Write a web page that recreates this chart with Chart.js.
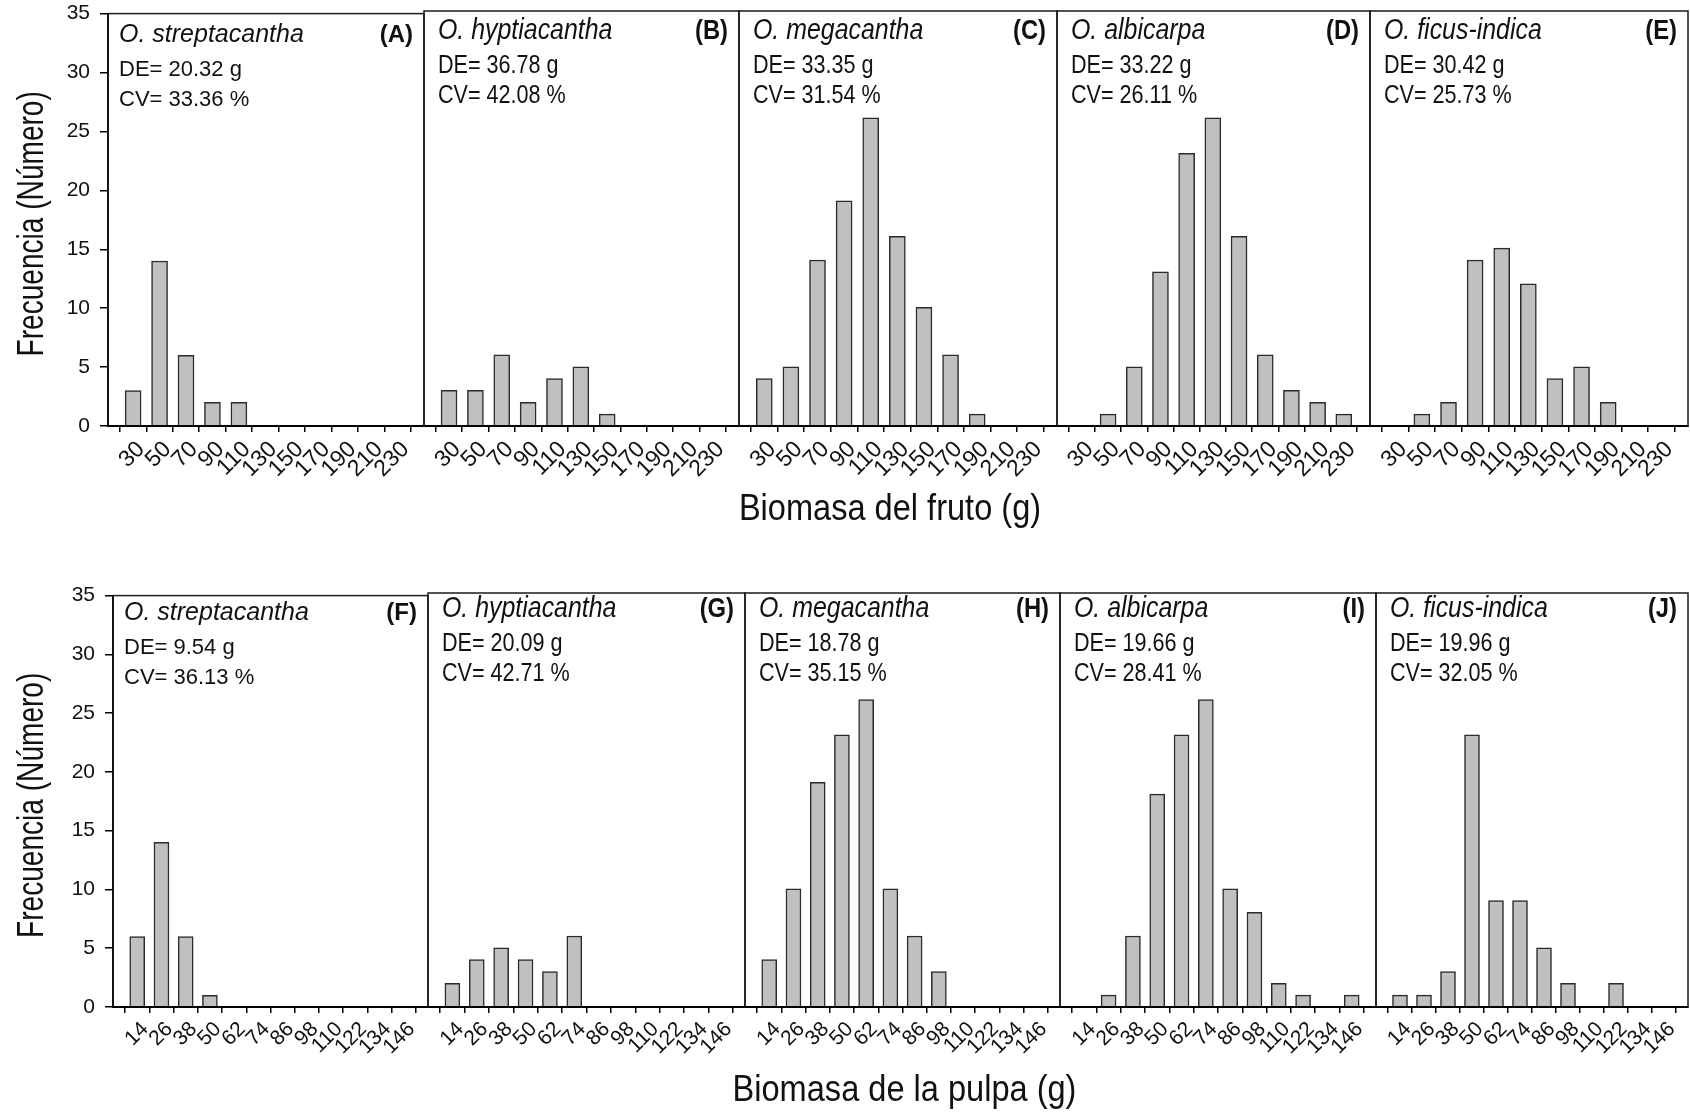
<!DOCTYPE html>
<html>
<head>
<meta charset="utf-8">
<script src="https://cdn.jsdelivr.net/npm/chart.js@4.4.1/dist/chart.umd.min.js"></script>
<style>
    html, body { margin: 0; padding: 0; background: #fff; }
    body { width: 1690px; height: 1113px; position: relative; overflow: hidden; }
    canvas { position: absolute; }
</style>
</head>
<body>
<script>
const species = ['O. streptacantha', 'O. hyptiacantha', 'O. megacantha', 'O. albicarpa', 'O. ficus-indica'];

// fruit biomass (top row)
const fruitBins = [30, 50, 70, 90, 110, 130, 150, 170, 190, 210, 230];
const fruitStreptacantha = [3, 14, 6, 2, 2, 0, 0, 0, 0, 0, 0];
const fruitHyptiacantha = [3, 3, 6, 2, 4, 5, 1, 0, 0, 0, 0];
const fruitMegacantha = [4, 5, 14, 19, 26, 16, 10, 6, 1, 0, 0];
const fruitAlbicarpa = [0, 1, 5, 13, 23, 26, 16, 6, 3, 2, 1];
const fruitFicusIndica = [0, 1, 2, 14, 15, 12, 4, 5, 2, 0, 0];
const fruitDE = ['20.32', '36.78', '33.35', '33.22', '30.42'];
const fruitCV = ['33.36', '42.08', '31.54', '26.11', '25.73'];
const fruitLetters = ['(A)', '(B)', '(C)', '(D)', '(E)'];

// pulp biomass (bottom row)
const pulpBins = [14, 26, 38, 50, 62, 74, 86, 98, 110, 122, 134, 146];
const pulpStreptacantha = [6, 14, 6, 1, 0, 0, 0, 0, 0, 0, 0, 0];
const pulpHyptiacantha = [2, 4, 5, 4, 3, 6, 0, 0, 0, 0, 0, 0];
const pulpMegacantha = [4, 10, 19, 23, 26, 10, 6, 3, 0, 0, 0, 0];
const pulpAlbicarpa = [0, 1, 6, 18, 23, 26, 10, 8, 2, 1, 0, 1];
const pulpFicusIndica = [1, 1, 3, 23, 9, 9, 5, 2, 0, 2, 0, 0];
const pulpDE = ['9.54', '20.09', '18.78', '19.66', '19.96'];
const pulpCV = ['36.13', '42.71', '35.15', '28.41', '32.05'];
const pulpLetters = ['(F)', '(G)', '(H)', '(I)', '(J)'];

const yTitle = 'Frecuencia (Número)';

const REG = "'Liberation Sans', Arial, sans-serif";

const rows = [
    {
        bins: fruitBins,
        series: [fruitStreptacantha, fruitHyptiacantha, fruitMegacantha, fruitAlbicarpa, fruitFicusIndica],
        de: fruitDE, cv: fruitCV, letters: fruitLetters,
        title: 'Biomasa del fruto (g)',
        top: 11, bottom: 426, edges: [108, 424, 739, 1057, 1370, 1688],
        xMin: 11, xMax: 250, barW: 16, xH: 110, tickSize: 23, titleShift: -8, textShift: -2
    },
    {
        bins: pulpBins,
        series: [pulpStreptacantha, pulpHyptiacantha, pulpMegacantha, pulpAlbicarpa, pulpFicusIndica],
        de: pulpDE, cv: pulpCV, letters: pulpLetters,
        title: 'Biomasa de la pulpa (g)',
        top: 593, bottom: 1007, edges: [113, 428, 745, 1060, 1376, 1688],
        xMin: 2, xMax: 158, barW: 15, xH: 106, tickSize: 21, titleShift: 2, textShift: -6
    }
];

// draws text squeezed horizontally, like the condensed face in the original
function squeezed(ctx, text, x, y, ratio) {
    const w = ctx.measureText(text).width;
    ctx.fillText(text, x, y, w * ratio);
}

const framePlugin = {
    id: 'frame',
    afterDatasetsDraw(chart) {
        const { ctx, chartArea: a } = chart;
        ctx.save();
        ctx.strokeStyle = '#1a1a1a';
        ctx.lineWidth = 1.5;
        ctx.strokeRect(a.left, a.top, a.right - a.left, a.bottom - a.top);
        ctx.beginPath();
        ctx.strokeStyle = '#000';
        ctx.lineWidth = 2;
        ctx.moveTo(a.left, a.bottom);
        ctx.lineTo(a.right, a.bottom);
        ctx.stroke();
        ctx.restore();
    }
};

const textPlugin = {
    id: 'panelText',
    afterDraw(chart, args, opts) {
        const { ctx, chartArea: a } = chart;
        const narrow = opts.narrow;
        const r = narrow ? 0.83 : 1;
        const sz = narrow ? { name: 30, de: 26, letter: 28 } : { name: 25, de: 22, letter: 24 };
        const dx = narrow ? 14 : 11;
        const t = a.top + opts.shift;
        ctx.save();
        ctx.fillStyle = '#111';
        ctx.textBaseline = 'alphabetic';
        ctx.textAlign = 'left';
        ctx.font = `italic ${sz.name}px ${REG}`;
        squeezed(ctx, opts.name, a.left + dx, t + 30, r);
        ctx.font = `${sz.de}px ${REG}`;
        squeezed(ctx, 'DE= ' + opts.de + ' g', a.left + dx, t + 64, r);
        squeezed(ctx, 'CV= ' + opts.cv + ' %', a.left + dx, t + 94, r);
        ctx.font = `bold ${sz.letter}px ${REG}`;
        ctx.textAlign = 'right';
        squeezed(ctx, opts.letter, a.right - 11, t + 30, narrow ? 0.85 : 1);

        // axis titles of the row
        if (opts.yTitle) {
            ctx.save();
            ctx.translate(43, (a.top + a.bottom) / 2 + 4);
            ctx.rotate(-Math.PI / 2);
            ctx.textAlign = 'center';
            ctx.font = `36px ${REG}`;
            squeezed(ctx, opts.yTitle, 0, 0, 0.78);
            ctx.restore();
        }
        if (opts.xTitle) {
            ctx.textAlign = 'center';
            ctx.font = `37px ${REG}`;
            squeezed(ctx, opts.xTitle, (a.left + a.right) / 2 + opts.titleShift, a.bottom + 94, 0.88);
        }
        ctx.restore();
    }
};

function makePanel(row, i) {
    const first = i === 0;
    const wide = i === 2 ? 45 : 3;   // middle panel carries the row title
    const padL = first ? 0 : wide, padR = wide, padT = 20;
    const left = first ? 0 : row.edges[i] - padL;
    const width = row.edges[i + 1] + padR - left;
    const top = row.top - padT;
    const height = row.bottom - top + row.xH;

    const canvas = document.createElement('canvas');
    canvas.width = width;
    canvas.height = height;
    canvas.style.left = left + 'px';
    canvas.style.top = top + 'px';
    document.body.appendChild(canvas);

    const yScale = {
        display: first,
        min: 0,
        max: 35,
        grid: { display: true, drawOnChartArea: false, drawTicks: true, tickLength: 8, color: '#000', lineWidth: 1.5 },
        border: { display: true, color: '#000', width: 2 },
        ticks: { stepSize: 5, padding: 10, color: '#111', font: { family: REG, size: 21 } },
        title: { display: false }
    };
    if (first) {
        yScale.afterFit = s => { s.width = row.edges[0]; };
    }

    return new Chart(canvas.getContext('2d'), {
        type: 'bar',
        data: {
            datasets: [{
                data: row.bins.map((b, k) => ({ x: b, y: row.series[i][k] })),
                backgroundColor: '#c0c0c0',
                borderColor: '#2b2b2b',
                borderWidth: 1.5,
                borderSkipped: 'start',
                barThickness: row.barW
            }]
        },
        options: {
            responsive: false,
            animation: false,
            events: [],
            layout: { padding: { top: padT, left: padL, right: padR, bottom: 0 } },
            plugins: {
                legend: { display: false },
                tooltip: { enabled: false },
                panelText: {
                    name: species[i], de: row.de[i], cv: row.cv[i],
                    letter: row.letters[i], narrow: !first, shift: row.textShift,
                    yTitle: first ? yTitle : null,
                    xTitle: i === 2 ? row.title : null,
                    titleShift: row.titleShift
                }
            },
            scales: {
                x: {
                    type: 'linear',
                    min: row.xMin,
                    max: row.xMax,
                    offset: false,
                    afterBuildTicks: s => { s.ticks = row.bins.map(v => ({ value: v })); },
                    afterFit: s => { s.height = row.xH; },
                    grid: { display: true, drawOnChartArea: false, drawTicks: true, tickLength: 6, color: '#000', lineWidth: 1.5 },
                    border: { display: true, color: '#000', width: 2 },
                    ticks: {
                        autoSkip: false, maxRotation: 45, minRotation: 45, padding: 4, labelOffset: 8,
                        color: '#111', font: { family: REG, size: row.tickSize }
                    },
                    title: { display: false }
                },
                y: yScale
            }
        },
        plugins: [framePlugin, textPlugin]
    });
}

rows.forEach(row => {
    for (let i = 0; i < 5; ++i) {
        makePanel(row, i);
    }
});
</script>
</body>
</html>
